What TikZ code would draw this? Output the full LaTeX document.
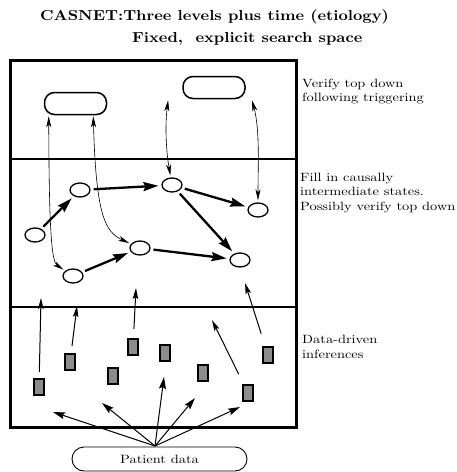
\documentclass[tikz,border=0pt]{standalone}
\usepackage{fontspec}
\newfontfamily\labelfont{lmroman10-regular}[Extension=.otf, FakeStretch=1.2]
\newfontfamily\titlefont{lmroman10-bold}[Extension=.otf, FakeStretch=1.12]
\usetikzlibrary{shapes.geometric,arrows.meta,calc}
\tikzset{
  lbl/.style={anchor=base west, align=left, inner sep=0pt, font=\labelfont\fontsize{12}{14.5}\selectfont},
  ttl/.style={anchor=base west, inner sep=0pt, font=\titlefont\fontsize{14.5}{17}\selectfont},
  topbox/.style={draw, line width=1.5pt, rounded corners=10pt, minimum width=62pt, minimum height=22pt, inner sep=0pt},
  state/.style={draw, ellipse, line width=1.3pt, minimum width=20pt, minimum height=14pt, inner sep=0pt},
  datum/.style={draw, line width=2pt, fill=black!45, minimum width=10pt, minimum height=16pt, inner sep=0pt},
  boldarr/.style={line width=2.3pt, -{Stealth[length=15pt,width=9pt,inset=2pt]}, shorten <=3pt, shorten >=3pt},
  linkarr/.style={line width=0.6pt, {Stealth[length=11pt,width=5pt,inset=3pt]}-{Stealth[length=11pt,width=5pt,inset=3pt]}, shorten <=1pt, shorten >=2pt},
  uparr/.style={line width=1pt, -{Stealth[length=11pt,width=5.5pt,inset=2pt]}},
  fanarr/.style={line width=1pt, -{Stealth[length=12pt,width=7pt,inset=2pt]}}
}
\begin{document}
\begin{tikzpicture}[x=1pt,y=-1pt]
\useasboundingbox (0,0) rectangle (456,472);
% titles
\node[ttl] (t1) at (40,20) {CASNET:Three levels plus time (etiology)};
\node[ttl] (t2) at (132,42) {Fixed,\ \ explicit search space};
% frame
\draw[line width=3pt] (10,60) rectangle (296,427);
\draw[line width=1.2pt] (10,159) -- (296,159);
\draw[line width=1.2pt] (10,307) -- (296,307);
% top level
\node[topbox] (L) at (75.5,103.5) {};
\node[topbox] (R) at (214,87.5) {};
% middle level states
\node[state] (O1) at (35,235) {};
\node[state] (O2) at (80,190) {};
\node[state] (O3) at (172,185) {};
\node[state] (O4) at (258,210) {};
\node[state] (O5) at (140,248) {};
\node[state] (O6) at (240,260) {};
\node[state] (O7) at (73,276) {};
\draw[boldarr] (O1) -- (O2);
\draw[boldarr] (O2) -- (O3);
\draw[boldarr] (O3) -- (O4);
\draw[boldarr] (O3) -- (O6);
\draw[boldarr] (O7) -- (O5);
\draw[boldarr] (O5) -- (O6);
% links between levels
\draw[linkarr] ([xshift=5pt]L.south west) .. controls (49,235) and (52,262) .. (O7);
\draw[linkarr] ([xshift=-14pt]L.south east) .. controls (96,215) and (105,232) .. (O5);
\draw[linkarr] ([xshift=-14pt]R.south west) .. controls (165,125) and (166,150) .. (O3);
\draw[linkarr] ([xshift=6pt]R.south east) .. controls (260,130) and (258,165) .. (O4);
% bottom level data
\node[datum] (B1) at (39,387) {};
\node[datum] (B2) at (70,362) {};
\node[datum] (B3) at (133,347) {};
\node[datum] (B4) at (113,376) {};
\node[datum] (B5) at (165,353) {};
\node[datum] (B6) at (203,373) {};
\node[datum] (B7) at (268,355) {};
\node[datum] (B8) at (248,393) {};
\coordinate (u1) at (41,298);
\coordinate (u2) at (77,306);
\coordinate (u3) at (136,288);
\coordinate (u4) at (212,320);
\coordinate (u5) at (245,283);
\draw[uparr, shorten <=6pt] (B1) -- (u1);
\draw[uparr, shorten <=7pt] (B2) -- (u2);
\draw[uparr, shorten <=9pt] (B3) -- (u3);
\draw[uparr, shorten <=11pt] (B8) -- (u4);
\draw[uparr, shorten <=13pt] (B7) -- (u5);
% patient data
\node[draw, line width=0.9pt, rounded corners=12pt, minimum width=175pt, minimum height=24pt, inner sep=0pt, font=\labelfont\fontsize{12}{14}\selectfont] (P) at (159.5,459) {Patient data};
\coordinate (p0) at (155,446);
\coordinate (f1) at (53,412);
\coordinate (f2) at (102,403);
\coordinate (f3) at (164,377);
\coordinate (f4) at (195,398);
\coordinate (f5) at (240,407);
\draw[fanarr] (p0) -- (f1);
\draw[fanarr] (p0) -- (f2);
\draw[fanarr] (p0) -- (f3);
\draw[fanarr] (p0) -- (f4);
\draw[fanarr] (p0) -- (f5);
% side labels
\node[lbl] (l1) at (302,101.5) {Verify top down\\following triggering};
\node[lbl] (l2) at (300,210) {Fill in causally\\intermediate states.\\Possibly verify top down};
\node[lbl] (l3) at (302,358) {Data-driven\\inferences};
\end{tikzpicture}
\end{document}
